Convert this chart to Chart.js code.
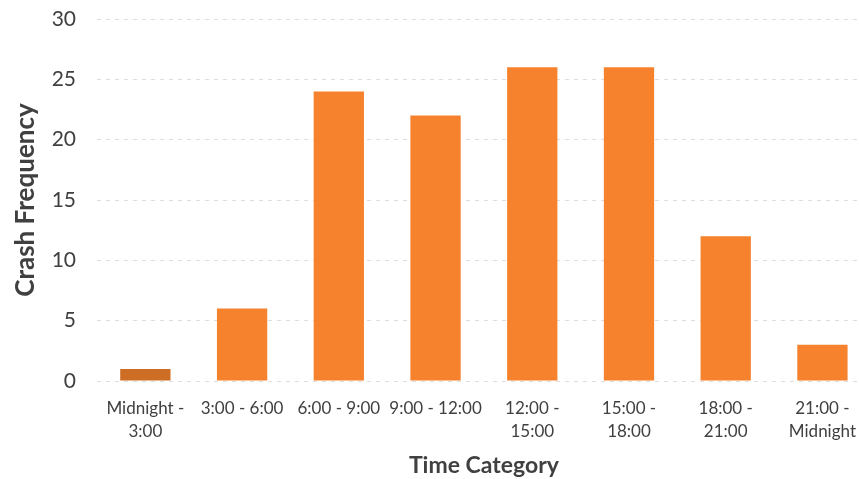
<!DOCTYPE html>
<html>
<head>
<meta charset="utf-8">
<script src="https://cdn.jsdelivr.net/npm/chart.js@4.4.1/dist/chart.umd.min.js"></script>
<style>
  html, body { margin: 0; padding: 0; background: #ffffff; overflow: hidden; }
  #wrap { position: relative; width: 872px; height: 479px; }
</style>
</head>
<body>
<div id="wrap"><canvas id="chart" width="872" height="479"></canvas></div>
<script>
// Crash counts by three-hour time-of-day window
const categories = [
  ['Midnight -', '3:00'],
  '3:00 - 6:00',
  '6:00 - 9:00',
  '9:00 - 12:00',
  ['12:00 -', '15:00'],
  ['15:00 -', '18:00'],
  ['18:00 -', '21:00'],
  ['21:00 -', 'Midnight']
];
const crashCounts = [1, 6, 24, 22, 26, 26, 12, 3];
const yTicks = [0, 5, 10, 15, 20, 25, 30];

const barOrange = '#f6822d';
const barDark = '#cd6e24';
const textColor = '#404040';
const fontFamily = 'Lato, "Open Sans", sans-serif';

new Chart(document.getElementById('chart'), {
  type: 'bar',
  data: {
    labels: categories,
    datasets: [{
      data: crashCounts,
      backgroundColor: crashCounts.map((v, i) => i === 0 ? barDark : barOrange),
      borderWidth: 0,
      categoryPercentage: 1,
      barPercentage: 0.52
    }]
  },
  options: {
    responsive: false,
    animation: false,
    layout: { padding: { top: 0, right: 0, bottom: 0, left: 0 } },
    plugins: { legend: { display: false }, tooltip: { enabled: false } },
    scales: {
      x: {
        grid: { display: false, drawTicks: false },
        border: { display: false },
        ticks: {
          color: textColor,
          font: { family: fontFamily, size: 17, lineHeight: 1.35 },
          padding: 16,
          maxRotation: 0,
          autoSkip: false
        },
        title: {
          display: true,
          text: 'Time Category',
          color: textColor,
          font: { family: fontFamily, size: 23, weight: 'bold' },
          padding: { top: 4, bottom: 0 }
        },
        afterFit: (scale) => { scale.height = 98; }
      },
      y: {
        min: 0,
        max: 30,
        afterBuildTicks: (scale) => { scale.ticks = yTicks.map(v => ({ value: v })); },
        grid: {
          color: '#dedede',
          lineWidth: 1,
          drawTicks: false
        },
        border: { display: false, dash: [4, 5] },
        ticks: {
          color: textColor,
          font: { family: fontFamily, size: 21 },
          padding: 21
        },
        title: {
          display: true,
          text: 'Crash Frequency',
          color: textColor,
          font: { family: fontFamily, size: 26, weight: 'bold' },
          padding: { top: 10, bottom: 4 }
        },
        afterFit: (scale) => {
          scale.width = 97;
          scale.paddingTop = 19;
        }
      }
    }
  }
});
</script>
</body>
</html>
